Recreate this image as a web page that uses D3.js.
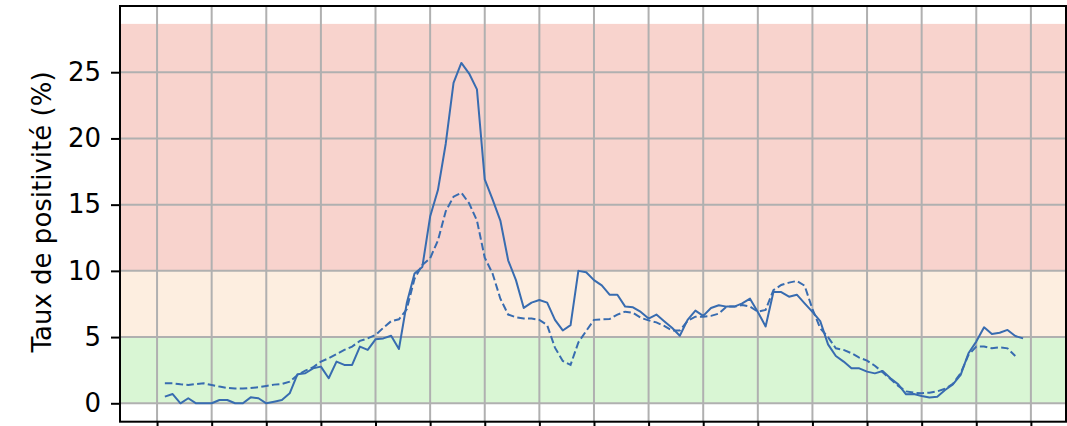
<!DOCTYPE html>
<html>
<head>
<meta charset="utf-8">
<script src="https://cdn.jsdelivr.net/npm/d3@7"></script>
<style>
  body { margin: 0; background: #fff; }
  svg text { font-family: "DejaVu Sans", sans-serif; fill: #000; }
</style>
</head>
<body>
<div id="chart"></div>
<script>
// day index of the first value of each series
var startDay = 1;

// taux de positivité, daily (solid line)
var tauxJour = [
    0.5, 0.7, 0.0, 0.38, 0.0, 0.0, 0.0, 0.25, 0.25, 0.0,
    0.0, 0.45, 0.38, 0.0, 0.12, 0.25, 0.75, 2.2, 2.27, 2.64,
    2.77, 1.89, 3.15, 2.9, 2.9, 4.28, 4.03, 4.83, 4.9, 5.1,
    4.1, 7.55, 9.8, 10.3, 14.1, 16.1, 19.6, 24.2, 25.7, 24.9,
    23.7, 16.9, 15.4, 13.8, 10.8, 9.3, 7.2, 7.6, 7.8, 7.6,
    6.3, 5.5, 5.9, 10.0, 9.9, 9.3, 8.9, 8.2, 8.2, 7.3,
    7.25, 6.9, 6.4, 6.7, 6.2, 5.7, 5.1, 6.3, 7.0, 6.6,
    7.2, 7.4, 7.3, 7.3, 7.55, 7.9, 6.9, 5.8, 8.4, 8.4,
    8.05, 8.2, 7.55, 6.9, 6.2, 4.45, 3.57, 3.15, 2.64, 2.64,
    2.39, 2.26, 2.44, 1.89, 1.43, 0.68, 0.7, 0.55, 0.43, 0.5,
    1.0, 1.43, 2.14, 3.78, 4.66, 5.74, 5.24, 5.33, 5.54, 5.08,
    4.9
];

// taux de positivité, smoothed (dashed line)
var tauxMoyen = [
    1.51, 1.51, 1.43, 1.38, 1.45, 1.51, 1.38, 1.26, 1.16, 1.11,
    1.11, 1.16, 1.21, 1.31, 1.41, 1.46, 1.63, 2.14, 2.47, 2.72,
    3.15, 3.4, 3.72, 4.03, 4.28, 4.71, 4.9, 5.16, 5.7, 6.2,
    6.34, 7.1, 9.4, 10.45, 10.95, 12.3, 14.5, 15.6, 15.9, 15.1,
    13.8, 11.0, 9.8, 7.9, 6.7, 6.5, 6.4, 6.4, 6.3, 5.9,
    4.2, 3.2, 2.9, 4.6, 5.46, 6.3, 6.34, 6.36, 6.7, 6.92,
    6.84, 6.46, 6.26, 6.11, 5.84, 5.5, 5.5, 6.22, 6.54, 6.54,
    6.6, 6.77, 7.3, 7.3, 7.42, 7.3, 6.92, 7.05, 8.55, 8.93,
    9.11, 9.24, 8.88, 7.12, 5.66, 5.0, 4.15, 4.03, 3.78, 3.45,
    3.22, 2.84, 2.34, 1.83, 1.31, 0.9, 0.8, 0.76, 0.8, 0.9,
    1.1, 1.46, 2.27, 3.65, 4.28, 4.28, 4.15, 4.23, 4.15, 3.57
];

// coloured zones [from, to, colour]
var zones = [
    [0, 5, '#d9f6d4'],
    [5, 10, '#fdeee0'],
    [10, 28.65, '#f8d3cd']
];

var yTicks = [0, 5, 10, 15, 20, 25];
var xTicks = d3.range(0, 113, 7);   // one tick per week

var lineColor = '#386cb0';

// set the dimensions and margins of the graph
var W = 1067, H = 426;
var margin = { top: 6, right: 1, bottom: 4.3, left: 120 },
    width  = W - margin.left - margin.right,
    height = H - margin.top - margin.bottom;

var x = d3.scaleLinear().domain([-4.75, 116.5]).range([0, width]);
var y = d3.scaleLinear().domain([-1.39, 30]).range([height, 0]);

var svg = d3.select('#chart').append('svg')
    .attr('width', W)
    .attr('height', H)
    .append('g')
    .attr('transform', 'translate(' + margin.left + ',' + margin.top + ')');

// zones
svg.selectAll('rect.zone')
    .data(zones)
    .enter().append('rect')
    .attr('class', 'zone')
    .attr('x', 0)
    .attr('width', width)
    .attr('y', function(d) { return y(d[1]); })
    .attr('height', function(d) { return y(d[0]) - y(d[1]); })
    .attr('fill', function(d) { return d[2]; });

// grid
svg.append('g')
    .selectAll('line')
    .data(yTicks)
    .enter().append('line')
    .attr('x1', 0).attr('x2', width)
    .attr('y1', y).attr('y2', y)
    .attr('stroke', '#b0b0b0').attr('stroke-width', 2);

svg.append('g')
    .selectAll('line')
    .data(xTicks)
    .enter().append('line')
    .attr('y1', 0).attr('y2', height)
    .attr('x1', x).attr('x2', x)
    .attr('stroke', '#b0b0b0').attr('stroke-width', 2);

// the two lines
var valueline = d3.line()
    .x(function(d, i) { return x(startDay + i); })
    .y(function(d) { return y(d); });

svg.append('path')
    .datum(tauxMoyen)
    .attr('d', valueline)
    .attr('fill', 'none')
    .attr('stroke', lineColor)
    .attr('stroke-width', 2)
    .attr('stroke-dasharray', '7.5,3.3');

svg.append('path')
    .datum(tauxJour)
    .attr('d', valueline)
    .attr('fill', 'none')
    .attr('stroke', lineColor)
    .attr('stroke-width', 2)
    .attr('stroke-linejoin', 'round');

// axes
var yAxis = svg.append('g')
    .call(d3.axisLeft(y).tickValues(yTicks).tickSize(9).tickPadding(10));
yAxis.selectAll('text').style('font-size', '26px');

svg.append('g')
    .attr('transform', 'translate(0,' + height + ')')
    .call(d3.axisBottom(x).tickValues(xTicks).tickSize(9).tickFormat(''));

svg.selectAll('.domain').remove();
svg.selectAll('.tick line').attr('stroke', '#000').attr('stroke-width', 2);

// frame
svg.append('rect')
    .attr('width', width)
    .attr('height', height)
    .attr('fill', 'none')
    .attr('stroke', '#000')
    .attr('stroke-width', 2);

// y label
svg.append('text')
    .attr('transform', 'translate(' + (42 - margin.left) + ',' + (212 - margin.top) + ') rotate(-90)')
    .attr('text-anchor', 'middle')
    .attr('dominant-baseline', 'central')
    .style('font-size', '26px')
    .text('Taux de positivité (%)');
</script>
</body>
</html>
